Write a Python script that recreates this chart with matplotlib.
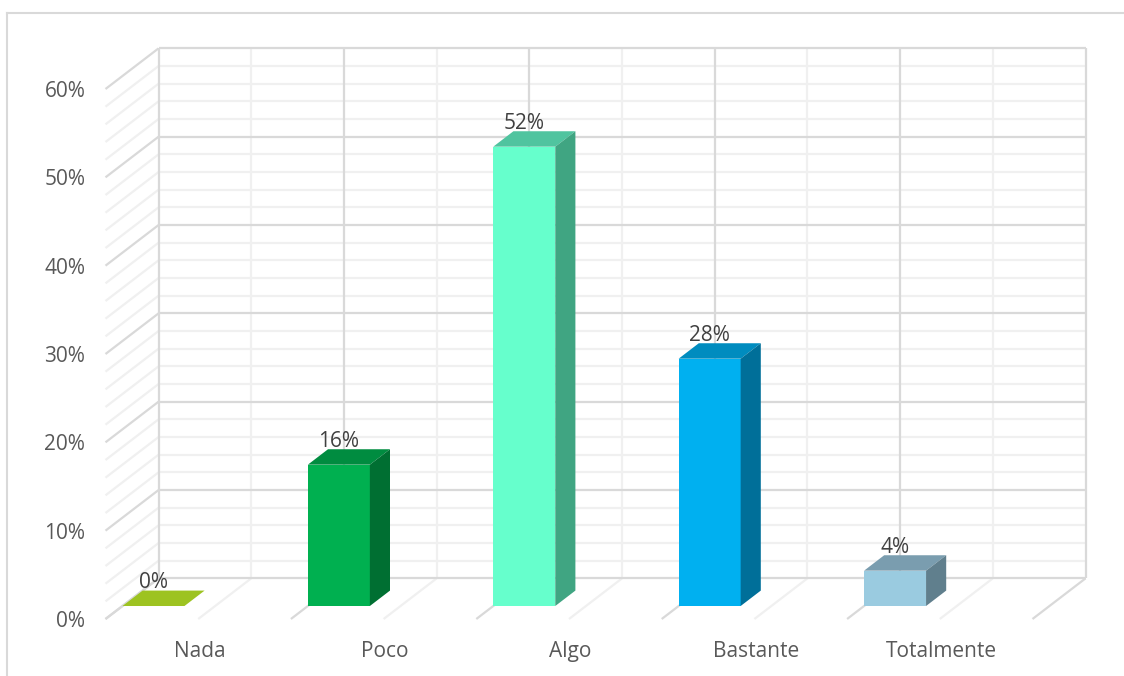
import matplotlib
matplotlib.use("Agg")
import matplotlib.pyplot as plt
from matplotlib.lines import Line2D
from matplotlib.patches import Polygon
import numpy as np

plt.rcParams['font.family'] = ['Open Sans', 'DejaVu Sans']

categories = ["Nada", "Poco", "Algo", "Bastante", "Totalmente"]
values = [0, 16, 52, 28, 4]
front_colors = ["#9DC321", "#00B050", "#66FFCC", "#00B0F0", "#9ACBE0"]
top_colors = ["#9DC321", "#008C40", "#50C49F", "#008CBF", "#7A9DAF"]
side_colors = ["#9DC321", "#006F32", "#40A582", "#006F99", "#607F8D"]
y_major = [0, 10, 20, 30, 40, 50, 60]
y_minor = [2, 4, 6, 8, 12, 14, 16, 18, 22, 24, 26, 28, 32, 34, 36, 38, 42, 44, 46, 48, 52, 54, 56, 58]

W, H = 1124, 676
fig = plt.figure(figsize=(W / 100, H / 100), dpi=100)
ax = fig.add_axes([105.5 / W, 1 - 619 / H, 927 / W, 530 / H])
ax.set_xlim(0, 5)
ax.set_ylim(0, 60)
for s in ax.spines.values():
    s.set_visible(False)
ax.patch.set_visible(False)

# how far the back wall is shifted from the front plane, in data units
DX = 53 / 185.4
DY = 40.6 / (530 / 60)


def proj(x, y, depth):
    return x + depth * DX, y + depth * DY


def line3d(p0, p1, color):
    a = proj(*p0)
    b = proj(*p1)
    ax.plot([a[0], b[0]], [a[1], b[1]], color=color, lw=1.6, clip_on=False,
            solid_capstyle='butt', zorder=1)


light = "#F0F0F0"
dark = "#D9D9D9"
n = len(categories)

# minor grid first, major on top
for y in y_minor:
    line3d((0, y, 1), (n, y, 1), light)
    line3d((0, y, 0), (0, y, 1), light)
for i in range(n):
    x = i + 0.5
    line3d((x, 0, 1), (x, y_major[-1], 1), light)
    line3d((x, 0, 0), (x, 0, 1), light)
for y in y_major:
    line3d((0, y, 1), (n, y, 1), dark)
    line3d((0, y, 0), (0, y, 1), dark)
for i in range(n + 1):
    line3d((i, 0, 1), (i, y_major[-1], 1), dark)
    line3d((i, 0, 0), (i, 0, 1), dark)

# bars: front face, top and side
bar_w = 62 / 185.4
d0 = 0.32
d1 = 0.70
for i, v in enumerate(values):
    x0, y0 = proj(i, 0, d0)
    ax.bar(x0, v, width=bar_w, bottom=y0, align='edge', color=front_colors[i], zorder=3)
    top = [proj(i, v, d0), proj(i + bar_w, v, d0), proj(i + bar_w, v, d1), proj(i, v, d1)]
    ax.add_patch(Polygon(top, closed=True, fc=top_colors[i], ec='none', clip_on=False, zorder=3))
    side = [proj(i + bar_w, 0, d0), proj(i + bar_w, 0, d1), proj(i + bar_w, v, d1), proj(i + bar_w, v, d0)]
    ax.add_patch(Polygon(side, closed=True, fc=side_colors[i], ec='none', clip_on=False, zorder=3))
    lx, ly = proj(i, v, d1)
    ax.text(x0 + bar_w / 2, ly + 0.25, "%d%%" % v, ha='center', va='baseline',
            fontsize=15, color="#404040", zorder=5, clip_on=False)

ax.set_yticks(y_major)
ax.set_yticklabels(["%d%%" % y for y in y_major])
ax.set_xticks([i + 0.508 for i in range(n)])
ax.set_xticklabels(categories)
ax.tick_params(axis='y', length=0, pad=14.5, labelsize=15, labelcolor="#595959")
ax.tick_params(axis='x', length=0, pad=15.5, labelsize=15, labelcolor="#595959")

# chart frame, only top and left show in the picture
fig.add_artist(Line2D([7 / W, 7 / W], [0, 1 - 13 / H], color=dark, lw=1.5))
fig.add_artist(Line2D([7 / W, 1], [1 - 13 / H, 1 - 13 / H], color=dark, lw=1.5))

fig.savefig("out.png", dpi=100)
